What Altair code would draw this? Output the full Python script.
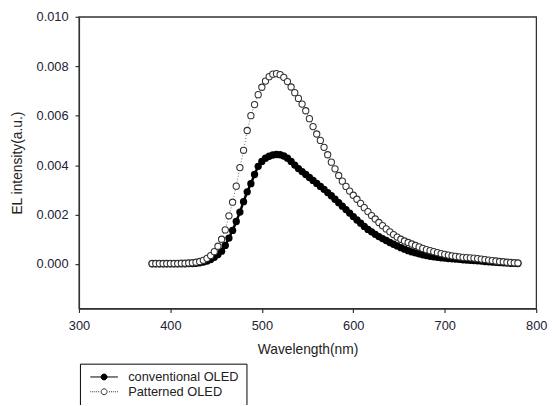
import altair as alt
import pandas as pd

# ---------------- data ----------------
wavelength = list(range(380, 781, 4))  # nm

# EL intensity, in units of 1e-3 a.u.
conventional = [
    0.01, 0.01, 0.01, 0.01, 0.01, 0.01, 0.01, 0.01, 0.01, 0.01,
    0.02, 0.02, 0.03, 0.05, 0.08, 0.12, 0.18, 0.27, 0.38, 0.52,
    0.75, 1.05, 1.36, 1.72, 2.10, 2.52, 2.92, 3.25, 3.62, 3.95,
    4.15, 4.28, 4.36, 4.41, 4.43, 4.42, 4.37, 4.28, 4.15, 4.00,
    3.86, 3.74, 3.62, 3.50, 3.38, 3.26, 3.14, 3.02, 2.89, 2.76,
    2.62, 2.48, 2.34, 2.20, 2.06, 1.92, 1.78, 1.65, 1.52, 1.40,
    1.30, 1.20, 1.11, 1.03, 0.95, 0.87, 0.80, 0.73, 0.66, 0.60,
    0.54, 0.49, 0.45, 0.41, 0.37, 0.34, 0.31, 0.29, 0.27, 0.25,
    0.24, 0.22, 0.21, 0.20, 0.19, 0.17, 0.16, 0.15, 0.14, 0.13,
    0.12, 0.10, 0.09, 0.08, 0.07, 0.06, 0.05, 0.04, 0.03, 0.03,
    0.02,
]
patterned = [
    0.02, 0.02, 0.02, 0.02, 0.02, 0.02, 0.02, 0.02, 0.03, 0.03,
    0.04, 0.05, 0.07, 0.10, 0.15, 0.23, 0.34, 0.50, 0.72, 1.00,
    1.38, 1.95, 2.50, 3.15, 3.90, 4.60, 5.40, 6.00, 6.45, 6.85,
    7.15, 7.40, 7.58, 7.68, 7.70, 7.66, 7.55, 7.38, 7.16, 6.93,
    6.70, 6.47, 6.20, 5.88, 5.56, 5.26, 5.00, 4.72, 4.42, 4.12,
    3.85, 3.58, 3.35, 3.14, 2.95, 2.78, 2.62, 2.45, 2.28, 2.12,
    1.96, 1.82, 1.68, 1.55, 1.42, 1.30, 1.19, 1.09, 1.00, 0.93,
    0.87, 0.81, 0.75, 0.69, 0.63, 0.58, 0.54, 0.50, 0.46, 0.42,
    0.39, 0.36, 0.33, 0.31, 0.29, 0.27, 0.26, 0.25, 0.24, 0.22,
    0.20, 0.18, 0.16, 0.14, 0.12, 0.10, 0.09, 0.07, 0.06, 0.05,
    0.04,
]
series_names = ["conventional OLED", "Patterned OLED"]
x_ticks = [300, 400, 500, 600, 700, 800]
y_ticks = [0.0, 0.002, 0.004, 0.006, 0.008, 0.010]

assert len(conventional) == len(wavelength) == len(patterned)

rows = []
for w, c, p in zip(wavelength, conventional, patterned):
    rows.append({"wl": w, "val": c / 1000.0, "series": series_names[0]})
    rows.append({"wl": w, "val": p / 1000.0, "series": series_names[1]})
df = pd.DataFrame(rows)

FONT = "Liberation Sans"

x_enc = alt.X(
    "wl:Q",
    scale=alt.Scale(domain=[300, 800], nice=False, zero=False),
    axis=alt.Axis(values=x_ticks, title="Wavelength(nm)", format="d",
                  labelPadding=7, titlePadding=11, labelFlush=False),
)
y_enc = alt.Y(
    "val:Q",
    scale=alt.Scale(domain=[-0.0018, 0.010], nice=False, zero=False),
    axis=alt.Axis(values=y_ticks, title="EL intensity(a.u.)", format=".3f",
                  labelPadding=7, titlePadding=12, labelFlush=False),
)

base = alt.Chart(df)
conv = base.transform_filter(alt.datum.series == series_names[0])
pat = base.transform_filter(alt.datum.series == series_names[1])

conv_line = conv.mark_line(color="black", strokeWidth=2.5).encode(x=x_enc, y=y_enc)
conv_pts = conv.mark_point(shape="circle", filled=True, color="black",
                           size=55, opacity=1).encode(x=x_enc, y=y_enc)
pat_line = pat.mark_line(color="#666666", strokeWidth=1,
                         strokeDash=[1, 2]).encode(x=x_enc, y=y_enc)
pat_pts = pat.mark_point(shape="circle", fill="white", stroke="#333333",
                         strokeWidth=1.1, size=40, opacity=1).encode(x=x_enc, y=y_enc)

# legend symbols: line + circle (solid / dotted)
conv_sym = "M-2.8,0H2.8M0.6,0A0.6,0.6,0,1,1,-0.6,0A0.6,0.6,0,1,1,0.6,0Z"
pat_sym = ("M-2.8,0H-2.6M-2.4,0H-2.2M-2.0,0H-1.8M-1.6,0H-1.4M-1.2,0H-1.0"
           "M1.0,0H1.2M1.4,0H1.6M1.8,0H2.0M2.2,0H2.4M2.6,0H2.8"
           "M0.6,0A0.6,0.6,0,1,1,-0.6,0A0.6,0.6,0,1,1,0.6,0Z")

leg = alt.Legend(orient="none", legendX=1, legendY=352, title=None,
                 symbolOpacity=1, symbolSize=100, symbolStrokeWidth=1)

legend_layer = base.transform_filter(alt.datum.wl == 380).mark_point(opacity=0).encode(
    x=x_enc, y=y_enc,
    shape=alt.Shape("series:N", scale=alt.Scale(domain=series_names,
                                                range=[conv_sym, pat_sym]),
                    legend=leg),
    fill=alt.Fill("series:N", scale=alt.Scale(domain=series_names,
                                              range=["black", "white"]),
                  legend=leg),
    stroke=alt.Stroke("series:N", scale=alt.Scale(domain=series_names,
                                                  range=["black", "#333333"]),
                      legend=leg),
)

chart = (
    alt.layer(conv_line, conv_pts, pat_line, pat_pts, legend_layer)
    .properties(
        width=464, height=296,
        autosize=alt.AutoSizeParams(type="none"),
        padding={"left": 72, "top": 6, "right": 13, "bottom": 95},
        background="white",
    )
    .configure_view(stroke="#333333", strokeWidth=1.3)
    .configure_axis(
        grid=False,
        domainColor="#333333", domainWidth=1.3,
        tickColor="#333333", tickSize=4, tickWidth=1.2,
        labelFont=FONT, labelFontSize=13, labelColor="#222233",
        titleFont=FONT, titleFontSize=14, titleFontWeight="normal",
        titleColor="#222222",
    )
    .configure_legend(
        strokeColor="black", fillColor="white", padding=7, cornerRadius=0,
        symbolSize=100, symbolOpacity=1, symbolStrokeWidth=1,
        symbolOffset=11, labelOffset=18,
        rowPadding=1, labelFont=FONT, labelFontSize=13, labelColor="#222222",
    )
)

chart.save("out.html", embed_options={"renderer": "svg", "actions": False})
